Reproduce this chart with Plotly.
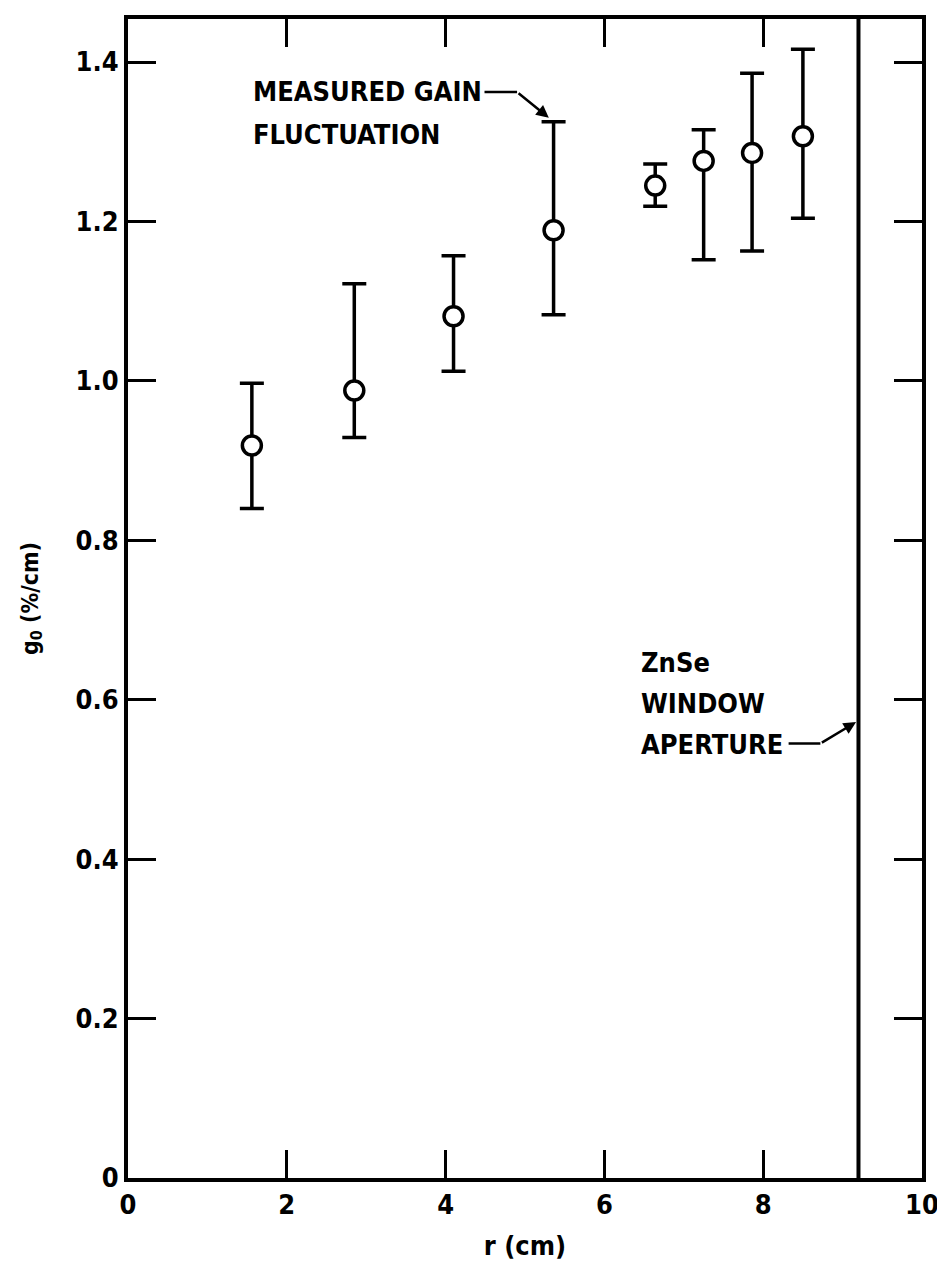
import plotly.graph_objects as go

# Data
r_cm = [1.56, 2.85, 4.10, 5.36, 6.64, 7.25, 7.86, 8.50]
g0 = [0.919, 0.988, 1.081, 1.189, 1.245, 1.276, 1.286, 1.307]
g0_upper = [0.997, 1.122, 1.157, 1.325, 1.272, 1.315, 1.386, 1.416]
g0_lower = [0.840, 0.929, 1.012, 1.083, 1.219, 1.152, 1.163, 1.204]
window_aperture_r = 9.2

x_tickvals = [0, 2, 4, 6, 8, 10]
x_ticktext = ["0", "2", "4", "6", "8", "10"]
y_tickvals = [0, 0.2, 0.4, 0.6, 0.8, 1.0, 1.2, 1.4]
y_ticktext = ["0", "0.2", "0.4", "0.6", "0.8", "1.0", "1.2", "1.4"]

gain_label_lines = ["MEASURED GAIN", "FLUCTUATION"]
window_label_lines = ["ZnSe", "WINDOW", "APERTURE"]

err_plus = [u - v for u, v in zip(g0_upper, g0)]
err_minus = [v - l for v, l in zip(g0, g0_lower)]

FONT = "DejaVu Sans Condensed, Liberation Sans, sans-serif"

fig = go.Figure()
fig.add_trace(go.Scatter(
    x=r_cm, y=g0, mode="markers",
    marker=dict(symbol="circle", size=19, color="white",
                line=dict(color="black", width=3.5)),
    error_y=dict(type="data", symmetric=False, array=err_plus,
                 arrayminus=err_minus, color="black", thickness=3.5, width=12),
    showlegend=False,
))

# ZnSe window aperture line
fig.add_shape(type="line", xref="x", yref="paper",
              x0=window_aperture_r, x1=window_aperture_r, y0=0, y1=1,
              line=dict(color="black", width=4))

# leader lines
fig.add_shape(type="line", xref="x", yref="y", x0=4.49, x1=4.90, y0=1.3625, y1=1.3625,
              line=dict(color="black", width=2.5))
fig.add_annotation(x=5.30, y=1.330, ax=4.90, ay=1.3625, xref="x", yref="y",
                   axref="x", ayref="y", text="", showarrow=True,
                   arrowhead=2, arrowsize=1.0, arrowwidth=2.5, arrowcolor="black")
fig.add_shape(type="line", xref="x", yref="y", x0=8.32, x1=8.72, y0=0.545, y1=0.545,
              line=dict(color="black", width=2.5))
fig.add_annotation(x=9.17, y=0.572, ax=8.72, ay=0.545, xref="x", yref="y",
                   axref="x", ayref="y", text="", showarrow=True,
                   arrowhead=2, arrowsize=1.0, arrowwidth=2.5, arrowcolor="black")

label_font = dict(family=FONT, size=27, color="black", weight="bold")
for i, line in enumerate(gain_label_lines):
    fig.add_annotation(x=1.55, y=1.363 - i * 0.054, xref="x", yref="y",
                       xanchor="left", yanchor="middle", text=line,
                       showarrow=False, font=label_font)
for i, line in enumerate(window_label_lines):
    fig.add_annotation(x=6.43, y=0.647 - i * 0.0515, xref="x", yref="y",
                       xanchor="left", yanchor="middle", text=line,
                       showarrow=False, font=label_font)

axis_common = dict(
    showline=True, linecolor="black", linewidth=4, mirror="allticks",
    ticks="inside", ticklen=28, tickwidth=2.5, tickcolor="black",
    showgrid=False, zeroline=False,
    tickfont=dict(family=FONT, size=27, color="black", weight="bold"),
)

fig.update_xaxes(range=[0, 10], tickvals=x_tickvals, ticktext=x_ticktext,
                 title=dict(text="r (cm)", standoff=18,
                            font=dict(family=FONT, size=27, color="black", weight="bold")),
                 **axis_common)
fig.update_yaxes(range=[0, 1.454], tickvals=y_tickvals, ticktext=y_ticktext,
                 title=dict(text="g<sub>0</sub> (%/cm)", standoff=32,
                            font=dict(family=FONT, size=23, color="black", weight="bold")),
                 **axis_common)

fig.update_layout(
    width=945, height=1267,
    margin=dict(l=120, r=31, t=7, b=97),
    paper_bgcolor="white", plot_bgcolor="white",
    font=dict(family=FONT, color="black"),
)

fig.write_html("out.html")
